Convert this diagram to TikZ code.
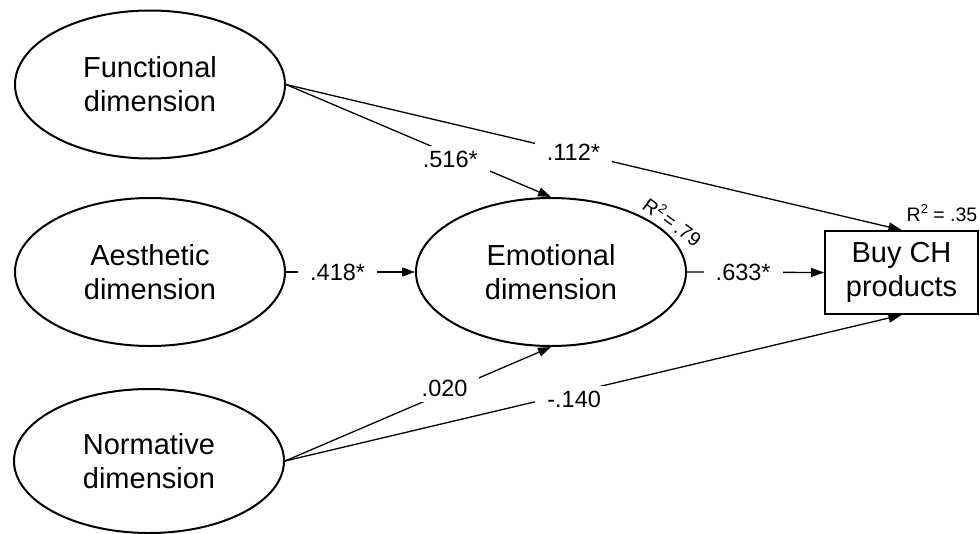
\documentclass[tikz,border=0pt]{standalone}
\usepackage{fontspec}
\setmainfont{Liberation Sans}
\usetikzlibrary{shapes.geometric,arrows.meta}
\newcommand{\sqtwo}{\raisebox{0.42em}{\fontsize{13}{13}\selectfont 2}}
\begin{document}
\begin{tikzpicture}[x=1pt,y=-1pt,
  lat/.style={ellipse,draw,line width=2pt,minimum width=270pt,minimum height=148pt,inner sep=0pt,align=center,font=\fontsize{29}{34}\selectfont},
  obs/.style={rectangle,draw,line width=2pt,minimum width=153pt,minimum height=83pt,inner sep=0pt,align=center,font=\fontsize{29}{34}\selectfont},
  conn/.style={line width=1.3pt,-{Triangle[length=13pt,width=9pt]}},
  coef/.style={fill=white,inner xsep=12pt,inner ysep=5pt,font=\fontsize{23.5}{27}\selectfont},
  rsq/.style={font=\fontsize{19.5}{22}\selectfont,inner sep=0pt}]
\useasboundingbox (0,0) rectangle (980,533);
\node[lat] (fun) at (150,84.5) {Functional\\dimension};
\node[lat] (aes) at (150,272) {Aesthetic\\dimension};
\node[lat,minimum height=144pt] (nor) at (149,461) {Normative\\dimension};
\node[lat] (emo) at (551,272) {Emotional\\dimension};
\node[obs] (buy) at (901.5,272.5) {Buy CH\\products};
\draw[conn] (fun.east) -- node[coef,pos=0.62,yshift=-5pt]{.516*} (emo.north);
\draw[conn] (fun.east) -- node[coef,pos=0.467]{.112*} (buy.north);
\draw[conn] (aes.east) -- node[coef,pos=0.40]{.418*} (emo.west);
\draw[conn] (emo.east) -- node[coef,pos=0.41]{.633*} (buy.west);
\draw[conn] (nor.east) -- node[coef,pos=0.6,yshift=4pt]{.020} (emo.south);
\draw[conn] (nor.east) -- node[coef,pos=0.469,yshift=-7pt]{-.140} (buy.south);
\node[rsq,rotate=-36] (r79) at (673,221) {R\sqtwo\,=\,.79};
\node[rsq] (r35) at (942,213) {R\sqtwo{} = .35};
\end{tikzpicture}
\end{document}
